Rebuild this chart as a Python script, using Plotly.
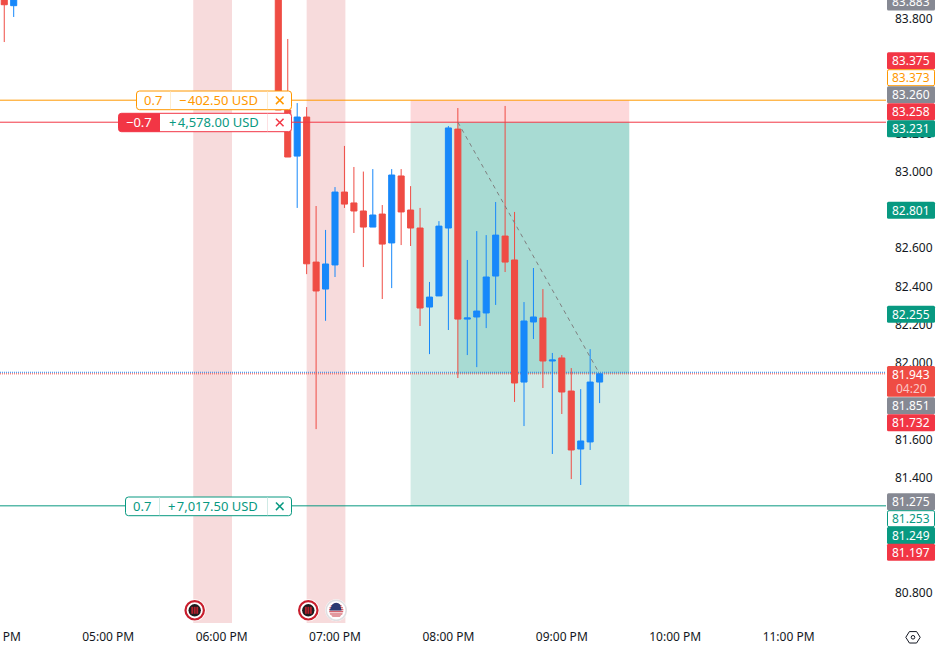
import math
import plotly.graph_objects as go

W, H = 939, 652
PANE_R, PANE_B = 886, 623

# ---- data ----
times = ["2024-03-01 16:05","2024-03-01 16:10",
 "2024-03-01 18:30","2024-03-01 18:35","2024-03-01 18:40","2024-03-01 18:45","2024-03-01 18:50","2024-03-01 18:55",
 "2024-03-01 19:00","2024-03-01 19:05","2024-03-01 19:10","2024-03-01 19:15","2024-03-01 19:20","2024-03-01 19:25",
 "2024-03-01 19:30","2024-03-01 19:35","2024-03-01 19:40","2024-03-01 19:45","2024-03-01 19:50","2024-03-01 19:55",
 "2024-03-01 20:00","2024-03-01 20:05","2024-03-01 20:10","2024-03-01 20:15","2024-03-01 20:20","2024-03-01 20:25",
 "2024-03-01 20:30","2024-03-01 20:35","2024-03-01 20:40","2024-03-01 20:45","2024-03-01 20:50","2024-03-01 20:55",
 "2024-03-01 21:00","2024-03-01 21:05","2024-03-01 21:10","2024-03-01 21:15","2024-03-01 21:20"]
opens = [83.95,83.867,84.10,83.322,83.081,83.285,82.527,82.386,82.512,82.893,82.836,82.794,82.710,82.778,
 82.627,82.977,82.799,82.705,82.292,82.350,82.705,83.222,82.229,82.240,82.261,82.454,82.663,82.538,81.900,82.214,
 82.235,82.010,82.026,81.853,81.550,81.587,81.900]
highs = [83.95,84.00,84.15,83.693,83.358,83.337,82.820,82.695,82.919,83.134,83.024,83.000,83.013,82.825,
 83.013,83.013,82.924,82.810,82.423,82.741,83.238,83.332,82.538,82.689,82.668,82.841,83.343,82.789,82.318,82.496,
 82.386,82.052,82.041,81.973,81.863,82.072,81.943]
lows = [83.677,83.808,83.322,83.076,82.810,82.464,81.654,82.220,82.449,82.810,82.679,82.501,82.710,82.334,
 82.391,82.616,82.611,82.193,82.046,82.350,82.172,81.921,82.041,81.978,82.182,82.303,82.475,81.796,81.670,82.125,
 81.869,81.524,81.733,81.393,81.362,81.545,81.790]
closes = [83.872,83.95,83.322,83.076,83.285,82.518,82.376,82.517,82.893,82.830,82.794,82.710,82.773,82.621,
 82.982,82.789,82.705,82.287,82.344,82.715,83.228,82.229,82.235,82.271,82.449,82.668,82.527,81.895,82.219,82.240,
 82.010,82.015,81.848,81.545,81.592,81.900,81.943]

price_ticks = [83.8, 83.2, 83.0, 82.6, 82.4, 82.2, 82.0, 81.6, 81.4, 80.8]
hour_ticks = ["2024-03-01 17:00","2024-03-01 18:00","2024-03-01 19:00","2024-03-01 20:00",
              "2024-03-01 21:00","2024-03-01 22:00","2024-03-01 23:00"]
hour_labels = ["05:00 PM","06:00 PM","07:00 PM","08:00 PM","09:00 PM","10:00 PM","11:00 PM"]

news_bands = [("2024-03-01 17:45","2024-03-01 18:05:30"), ("2024-03-01 18:45","2024-03-01 19:05:30")]
pos_start, pos_mid, pos_end = "2024-03-01 19:40","2024-03-01 20:05","2024-03-01 21:35:40"
entry_price, stop_price, target_price, last_price, last_blue = 83.258, 83.373, 81.253, 81.943, 81.951
x_start, x_end = "2024-03-01 16:02:45", "2024-03-01 23:51:32"

# price-scale boxes: text, fill, text colour, border
box_texts  = ["83.883","83.375","83.373","83.260","83.258","83.231","82.801","82.255","81.851","81.732","81.275","81.253","81.249","81.197"]
box_fills  = ["#868993","#f23645","#ffffff","#868993","#f23645","#089981","#089981","#089981","#868993","#f23645","#868993","#ffffff","#089981","#f23645"]
box_inks   = ["#ffffff","#ffffff","#ff9800","#ffffff","#ffffff","#ffffff","#ffffff","#ffffff","#ffffff","#ffffff","#ffffff","#089981","#ffffff","#ffffff"]
box_lines  = [None,None,"#ff9800",None,None,None,None,None,None,None,None,"#089981",None,None]
box_centre = [2,60.7,77.7,94.7,111.7,128.7,210.3,314.3,405.7,422.7,501.7,518.7,535.5,552.3]

FONT = "Noto Sans"
INK = "#131722"
ORANGE, RED, GREEN = "#ff9800", "#f23645", "#089981"
BLUE_C, RED_C = "#1788fa", "#ef4c44"

def X(px): return px / W
def Y(py): return 1 - py / H

shapes, annots = [], []

def rect(x0, y0, x1, y1, fill, line=None, lw=1, layer="above"):
    shapes.append(dict(type="rect", xref="paper", yref="paper", x0=X(x0), x1=X(x1), y0=Y(y0), y1=Y(y1),
                       fillcolor=fill, line=dict(color=line or fill, width=lw if line else 0), layer=layer))

def rounded(x0, y0, x1, y1, r, fill, line=None, lw=1, corners=(1, 1, 1, 1)):
    tl, tr, br, bl = [r * c for c in corners]
    p = (f"M{X(x0+tl)},{Y(y0)} L{X(x1-tr)},{Y(y0)} Q{X(x1)},{Y(y0)} {X(x1)},{Y(y0+tr)} "
         f"L{X(x1)},{Y(y1-br)} Q{X(x1)},{Y(y1)} {X(x1-br)},{Y(y1)} "
         f"L{X(x0+bl)},{Y(y1)} Q{X(x0)},{Y(y1)} {X(x0)},{Y(y1-bl)} "
         f"L{X(x0)},{Y(y0+tl)} Q{X(x0)},{Y(y0)} {X(x0+tl)},{Y(y0)} Z")
    shapes.append(dict(type="path", xref="paper", yref="paper", path=p, fillcolor=fill,
                       line=dict(color=line or fill, width=lw if line else 0), layer="above"))

def circle(cx, cy, r, fill, line=None, lw=1):
    shapes.append(dict(type="circle", xref="paper", yref="paper", x0=X(cx-r), x1=X(cx+r), y0=Y(cy-r), y1=Y(cy+r),
                       fillcolor=fill, line=dict(color=line or fill, width=lw if line else 0), layer="above"))

def seg(x0, y0, x1, y1, color, lw):
    shapes.append(dict(type="line", xref="paper", yref="paper", x0=X(x0), x1=X(x1), y0=Y(y0), y1=Y(y1),
                       line=dict(color=color, width=lw), layer="above"))

def text(px, py, s, color, size=12, anchor="center"):
    annots.append(dict(xref="paper", yref="paper", x=X(px), y=Y(py), text=s, showarrow=False,
                       xanchor=anchor, yanchor="middle", font=dict(family=FONT, size=size, color=color),
                       borderpad=0, borderwidth=0))

# --- shapes below the candles ---
for a, b in news_bands:
    shapes.append(dict(type="rect", xref="x", yref="paper", x0=a, x1=b, y0=Y(PANE_B), y1=1,
                       fillcolor="#f7dbdc", line=dict(width=0), layer="below"))
shapes.append(dict(type="rect", xref="x", yref="y", x0=pos_start, x1=pos_end, y0=entry_price, y1=stop_price,
                   fillcolor="#fdd8da", line=dict(width=0), layer="below"))
shapes.append(dict(type="rect", xref="x", yref="y", x0=pos_start, x1=pos_end, y0=target_price, y1=entry_price,
                   fillcolor="#d1ebe6", line=dict(width=0), layer="below"))
shapes.append(dict(type="rect", xref="x", yref="y", x0=pos_mid, x1=pos_end, y0=last_price, y1=entry_price,
                   fillcolor="#a8dbd3", line=dict(width=0), layer="below"))
for p, c in ((last_blue, "#1e88f0"), (last_price, "#ef4c44")):
    shapes.append(dict(type="line", xref="x", yref="y", x0=x_start, x1=x_end, y0=p, y1=p,
                       line=dict(color=c, width=1, dash="1px,1px"), layer="below"))

# --- lines above the candles ---
for p, c in ((stop_price, ORANGE), (entry_price, RED), (target_price, GREEN)):
    shapes.append(dict(type="line", xref="paper", yref="y", x0=0, x1=X(PANE_R), y0=p, y1=p,
                       line=dict(color=c, width=1), layer="above"))
shapes.append(dict(type="line", xref="x", yref="y", x0=pos_mid, x1=times[-1], y0=entry_price, y1=last_price,
                   line=dict(color="#7f7f7f", width=1, dash="4px,4px"), layer="above"))

# --- order tags ---
def tag(x0, y0, y1, color, qty, pnl, pnl_color, d1, d2, filled=False):
    x1 = 291.5
    rounded(x0, y0, x1, y1, 3, "#ffffff", color, 1)
    cy = (y0 + y1) / 2
    if filled:
        rounded(x0, y0, d1, y1, 3, color, None, 1, corners=(1, 0, 0, 1))
    else:
        rect(d1, y0 + .5, d1 + 1, y1 - .5, "#ffeccc" if color == ORANGE else "#cfeae5")
    rect(d2, y0 + .5, d2 + 1, y1 - .5, "#fde0e2" if color == RED else ("#ffeccc" if color == ORANGE else "#cfeae5"))
    text((x0 + d1) / 2, cy, qty, "#ffffff" if filled else color, 13)
    text((d1 + d2) / 2, cy, pnl, pnl_color, 13)
    mx = (d2 + x1) / 2 + .5
    seg(mx - 3.8, cy - 3.8, mx + 3.8, cy + 3.8, color, 1.5)
    seg(mx - 3.8, cy + 3.8, mx + 3.8, cy - 3.8, color, 1.5)

tag(136.5, 91, 109.7, ORANGE, "0.7", "\u2212\u200a402.50 USD", ORANGE, 170, 267)
tag(118.5, 113.3, 131.7, RED, "\u22120.7", "+\u200a4,578.00 USD", GREEN, 160, 267, filled=True)
tag(125.5, 497, 515.7, GREEN, "0.7", "+\u200a7,017.50 USD", GREEN, 159, 267)

# --- price-scale boxes ---
for t, f, ink, ln, cy in zip(box_texts, box_fills, box_inks, box_lines, box_centre):
    if ln:
        rounded(887.5, cy - 8, 934.5, cy + 8, 1.5, f, ln, 1)
    else:
        rounded(887, cy - 8.5, 935, cy + 8.5, 1.5, f)
    text(911.3, cy, t, ink, 12)
rounded(887, 366, 935, 396.7, 1.5, "#ef4c44")
text(911.3, 374.5, "81.943", "#ffffff", 12)
text(911.3, 388.5, "04:20", "#fbc7c4", 12)

# --- off-edge time label ---
text(-5.2, 636, "04:00 PM", INK, 12)

# --- news icons ---
def event_icon(cx, cy):
    circle(cx, cy, 11, "#ffffff")
    circle(cx, cy, 9.2, "#ffffff", "#c81e2d", 2.2)
    circle(cx, cy, 6.2, "#1c1c1f")
    for dx in (-3.4, -0.9, 1.6):
        rect(cx + dx, cy - 3.5, cx + dx + 1.9, cy + 3.5, "#b3202c")

event_icon(194.7, 610.3)
event_icon(308.3, 610.3)

fx, fy = 336.2, 610.3
circle(fx, fy, 11, "#ffffff")
circle(fx, fy, 10, "#ffffff", "#e0e0e3", 1.6)
R = 7.2
for i in range(7):
    top = -R + i * 2 * R / 7
    bot = top + R / 7
    xa = math.sqrt(max(R * R - top * top, 0))
    xb = math.sqrt(max(R * R - bot * bot, 0))
    p = (f"M{X(fx-xa)},{Y(fy+top)} L{X(fx+xa)},{Y(fy+top)} L{X(fx+xb)},{Y(fy+bot)} L{X(fx-xb)},{Y(fy+bot)} Z")
    shapes.append(dict(type="path", xref="paper", yref="paper", path=p, fillcolor="#c8323f",
                       line=dict(width=0), layer="above"))
shapes.append(dict(type="path", xref="paper", yref="paper",
                   path=f"M{X(fx-R*.92)},{Y(fy+0.3)} L{X(fx+R*.75)},{Y(fy+0.3)} L{X(fx+R*.55)},{Y(fy-R*.82)} "
                        f"Q{X(fx)},{Y(fy-R*1.25)} {X(fx-R*.55)},{Y(fy-R*.82)} Z",
                   fillcolor="#2b3a72", line=dict(width=0), layer="above"))

# --- settings hexagon ---
hx, hy = 913, 637.3
pts = [(hx + 7.2 * math.cos(math.radians(a)), hy + 6.6 * math.sin(math.radians(a))) for a in range(0, 360, 60)]
shapes.append(dict(type="path", xref="paper", yref="paper",
                   path="M" + " L".join(f"{X(a)},{Y(b)}" for a, b in pts) + " Z",
                   fillcolor="rgba(0,0,0,0)", line=dict(color=INK, width=1), layer="above"))
circle(hx, hy, 1.8, "rgba(0,0,0,0)", INK, 1)

fig = go.Figure(go.Candlestick(
    x=times, open=opens, high=highs, low=lows, close=closes,
    increasing=dict(line=dict(color=BLUE_C, width=1), fillcolor=BLUE_C),
    decreasing=dict(line=dict(color=RED_C, width=1), fillcolor=RED_C),
    whiskerwidth=0, hoverinfo="skip", showlegend=False))

fig.update_layout(
    width=W, height=H, margin=dict(l=0, r=0, t=0, b=0),
    paper_bgcolor="#ffffff", plot_bgcolor="#ffffff", showlegend=False,
    font=dict(family=FONT, size=12, color=INK),
    boxgap=0.2, boxgroupgap=0.2,
    shapes=shapes, annotations=annots,
    xaxis=dict(domain=[0, PANE_R / W], type="date", rangeslider=dict(visible=False),
               range=[x_start, x_end],
               tickmode="array", tickvals=hour_ticks, ticktext=hour_labels,
               showgrid=False, zeroline=False, showline=False, ticks="",
               tickfont=dict(family=FONT, size=12, color=INK), ticklabelstandoff=5),
    yaxis=dict(domain=[1 - PANE_B / H, 1], side="right", anchor="x",
               range=[80.6407, 83.8967], tickmode="array", tickvals=price_ticks,
               ticktext=[f"{v:.3f}" for v in price_ticks],
               showgrid=False, zeroline=False, showline=False, ticks="",
               ticklabelstandoff=8, tickfont=dict(family=FONT, size=12, color=INK)),
)

fig.write_html("out.html", config=dict(displayModeBar=False),
               post_script="document.body.style.margin='0';")
